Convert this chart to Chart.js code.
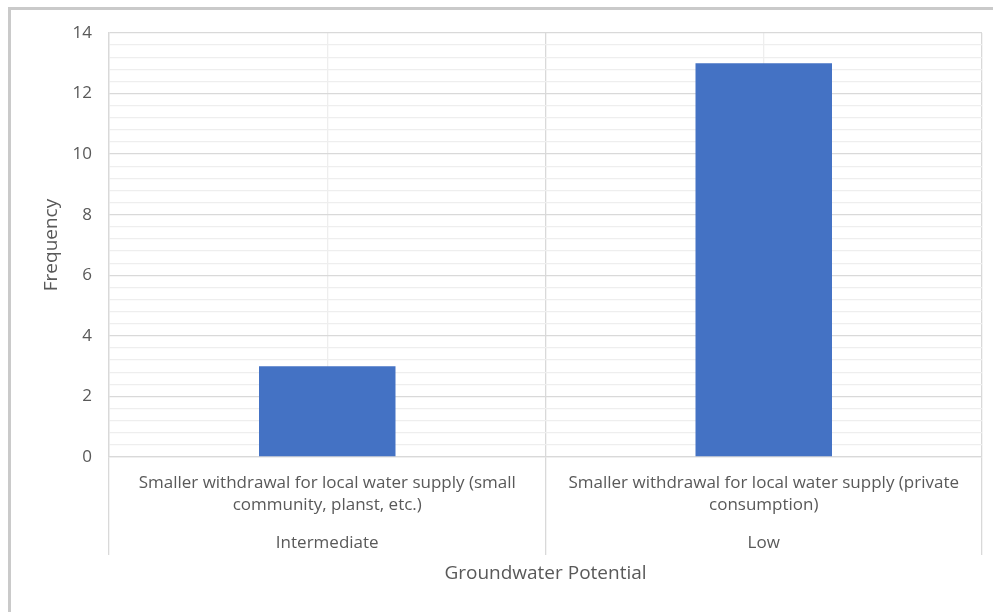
<!DOCTYPE html>
<html>
<head>
<meta charset="utf-8">
<script src="https://cdn.jsdelivr.net/npm/chart.js@4/dist/chart.umd.min.js"></script>
<style>
  html, body { margin: 0; padding: 0; background: #ffffff; }
  #wrap { position: relative; width: 993px; height: 612px; overflow: hidden; }
  #frame {
    position: absolute; left: 8px; top: 7px; width: 1000px; height: 700px;
    border-left: 3px solid #cacaca; border-top: 3px solid #cacaca;
    box-sizing: border-box; pointer-events: none;
  }
  canvas { position: absolute; left: 0; top: 0; }
</style>
</head>
<body>
<div id="wrap">
  <canvas id="chart" width="993" height="612"></canvas>
  <div id="frame"></div>
</div>
<script>
// Uses of withdrawn groundwater, grouped by groundwater potential
const categories = [
  ['Smaller withdrawal for local water supply (small', 'community, planst, etc.)'],
  ['Smaller withdrawal for local water supply (private', 'consumption)']
];
const groups = ['Intermediate', 'Low'];
const frequency = [3, 13];
const yTicksMajor = [0, 2, 4, 6, 8, 10, 12, 14];

const TEXT = '#595959';
const FONT = '"Open Sans", "Liberation Sans", sans-serif';

const isMajor = v => yTicksMajor.some(t => Math.abs(t - v) < 1e-6);

new Chart(document.getElementById('chart'), {
  type: 'bar',
  data: {
    labels: categories,
    datasets: [{
      label: 'Frequency',
      data: frequency,
      backgroundColor: '#4472C4',
      borderWidth: 0,
      barPercentage: 0.3127,
      categoryPercentage: 1.0
    }]
  },
  options: {
    responsive: false,
    animation: false,
    layout: { padding: { top: 33, right: 11, bottom: 0, left: 20 } },
    plugins: {
      legend: { display: false },
      tooltip: { enabled: false }
    },
    scales: {
      x: {
        type: 'category',
        position: 'bottom',
        weight: 0,
        offset: true,
        grid: {
          offset: true,
          color: '#d9d9d9',
          lineWidth: 1.3,
          drawOnChartArea: true,
          drawTicks: true,
          tickLength: 98
        },
        border: { display: true, color: '#d9d9d9', width: 1.3 },
        ticks: {
          color: TEXT,
          font: { family: FONT, size: 17, lineHeight: 22 / 17 },
          padding: -83,
          maxRotation: 0,
          autoSkip: false
        },
        afterFit: s => { s.height = 75.5; }
      },
      x2: {
        type: 'category',
        position: 'bottom',
        weight: 1,
        labels: groups,
        offset: true,
        grid: {
          offset: false,
          color: '#eeeeee',
          lineWidth: 1.3,
          drawOnChartArea: true,
          drawTicks: false
        },
        border: { display: false },
        ticks: {
          color: TEXT,
          font: { family: FONT, size: 17, lineHeight: 22 / 17 },
          padding: 0,
          maxRotation: 0,
          autoSkip: false
        },
        title: {
          display: true,
          text: 'Groundwater Potential',
          color: TEXT,
          font: { family: FONT, size: 19 },
          padding: { top: 0, bottom: 26.6 }
        },
        afterFit: s => { s.height = 79.5; }
      },
      y: {
        min: 0,
        max: 14,
        grid: {
          color: ctx => isMajor(ctx.tick.value) ? '#d9d9d9' : '#eeeeee',
          lineWidth: 1.3,
          drawTicks: false
        },
        border: { display: true, color: '#d9d9d9', width: 1.3 },
        ticks: {
          stepSize: 0.4,
          maxTicksLimit: 100,
          autoSkip: false,
          color: TEXT,
          font: { family: FONT, size: 17 },
          padding: 17,
          callback: v => isMajor(v) ? String(Math.round(v)) : ''
        },
        title: {
          display: true,
          text: 'Frequency',
          color: TEXT,
          font: { family: FONT, size: 19 },
          padding: { top: 20.6, bottom: 0 }
        },
        afterFit: s => { s.width = 89; }
      }
    }
  }
});
</script>
</body>
</html>
